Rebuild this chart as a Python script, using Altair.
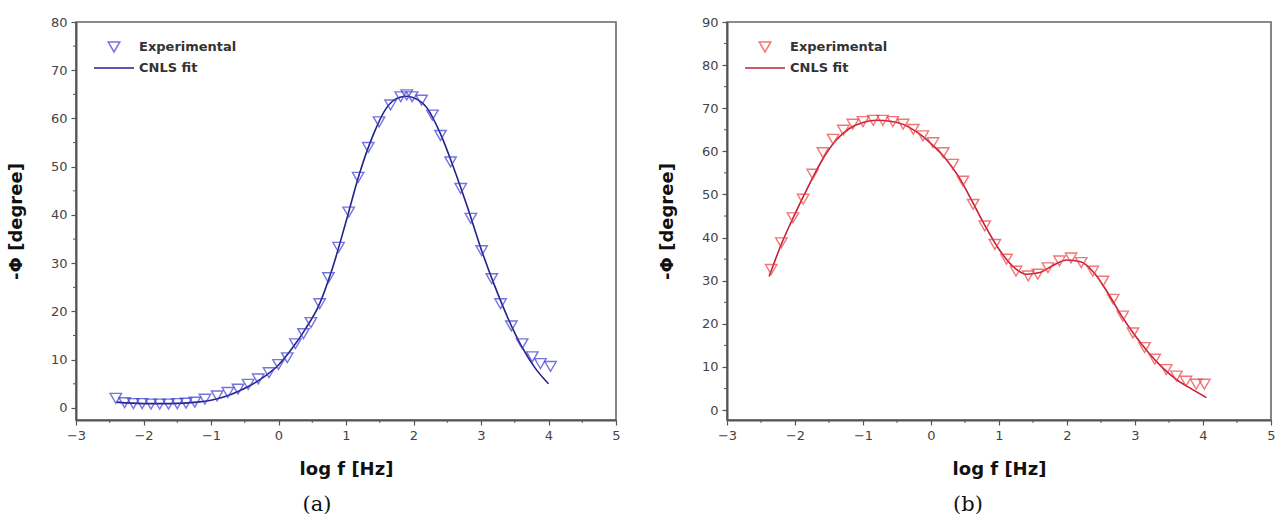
import altair as alt
import pandas as pd

# ---------------- data ----------------
x_ticks = [-3, -2, -1, 0, 1, 2, 3, 4, 5]
x_minor = [-2.5, -1.5, -0.5, 0.5, 1.5, 2.5, 3.5, 4.5]

a_y_ticks = [0, 10, 20, 30, 40, 50, 60, 70, 80]
a_y_minor = [5, 15, 25, 35, 45, 55, 65, 75]
b_y_ticks = [0, 10, 20, 30, 40, 50, 60, 70, 80, 90]
b_y_minor = [5, 15, 25, 35, 45, 55, 65, 75, 85]

a_exp_x = [-2.41, -2.28, -2.15, -2.02, -1.89, -1.76, -1.63, -1.50, -1.37, -1.24,
           -1.09, -0.91, -0.75, -0.60, -0.45, -0.30, -0.14, 0.00, 0.13, 0.25,
           0.37, 0.48, 0.61, 0.74, 0.89, 1.04, 1.18, 1.33, 1.49, 1.66,
           1.81, 1.90, 1.98, 2.12, 2.28, 2.40, 2.55, 2.70, 2.85, 3.01,
           3.16, 3.29, 3.45, 3.61, 3.76, 3.88, 4.03]
a_exp_y = [2.0, 1.1, 0.9, 0.9, 0.8, 0.8, 0.8, 0.9, 1.0, 1.2,
           1.8, 2.5, 3.2, 3.9, 4.9, 6.0, 7.3, 9.0, 10.4, 13.3,
           15.4, 17.7, 21.6, 27.0, 33.3, 40.6, 47.8, 54.0, 59.3, 62.8,
           64.5, 64.9, 64.5, 63.8, 60.7, 56.5, 51.0, 45.5, 39.3, 32.6,
           26.8, 21.6, 17.0, 13.3, 10.6, 9.2, 8.6]
a_fit_x = [-2.4, -2.0, -1.6, -1.2, -1.0, -0.8, -0.6, -0.4, -0.2, 0.0,
           0.2, 0.4, 0.6, 0.8, 1.0, 1.2, 1.4, 1.6, 1.8, 1.9,
           2.0, 2.2, 2.4, 2.6, 2.8, 3.0, 3.2, 3.4, 3.6, 3.8, 4.0]
a_fit_y = [1.2, 0.9, 0.9, 1.2, 1.6, 2.3, 3.4, 4.8, 6.6, 8.9,
           12.3, 16.4, 21.3, 29.0, 38.6, 48.6, 56.5, 62.2, 64.4, 64.6,
           64.3, 62.2, 56.8, 49.6, 41.6, 33.0, 25.4, 18.6, 12.8, 8.3, 5.0]

b_exp_x = [-2.35, -2.20, -2.03, -1.88, -1.74, -1.59, -1.44, -1.29, -1.15, -1.00,
           -0.85, -0.71, -0.56, -0.41, -0.26, -0.12, 0.03, 0.18, 0.32, 0.47,
           0.62, 0.79, 0.94, 1.11, 1.25, 1.43, 1.57, 1.72, 1.89, 2.06,
           2.21, 2.38, 2.53, 2.68, 2.82, 2.97, 3.14, 3.29, 3.46, 3.61,
           3.75, 3.90, 4.02]
b_exp_y = [32.6, 38.8, 44.6, 48.9, 54.7, 59.7, 62.8, 64.9, 66.3, 66.9,
           67.2, 67.2, 66.9, 66.3, 65.1, 63.6, 62.0, 59.7, 57.0, 53.1,
           47.7, 42.7, 38.4, 35.0, 32.2, 31.1, 31.5, 33.0, 34.6, 35.3,
           34.2, 32.2, 29.9, 25.7, 21.8, 17.9, 14.5, 11.8, 9.4, 7.9,
           6.7, 6.0, 6.0]
b_fit_x = [-2.38, -2.2, -2.0, -1.8, -1.6, -1.4, -1.2, -1.0, -0.8, -0.6,
           -0.4, -0.2, 0.0, 0.2, 0.4, 0.6, 0.8, 1.0, 1.2, 1.4,
           1.6, 1.8, 2.0, 2.2, 2.4, 2.6, 2.8, 3.0, 3.2, 3.4,
           3.6, 3.8, 4.05]
b_fit_y = [31.0, 38.5, 45.5, 52.0, 58.0, 62.5, 65.3, 66.7, 67.2, 67.0,
           66.2, 64.4, 61.8, 58.6, 54.3, 48.6, 42.6, 37.3, 33.4, 31.5,
           31.9, 33.6, 34.8, 34.4, 31.8, 27.2, 21.9, 17.3, 13.3, 9.9,
           7.2, 5.2, 2.9]

legend_labels = ["Experimental", "CNLS fit"]

FONT = "DejaVu Sans"
AXIS_COL = "#555555"
H = 398


def panel(exp_x, exp_y, fit_x, fit_y, ymin, ymax, yticks, yminor,
          pt_color, ln_color, width, label, label_dx):
    exp_df = pd.DataFrame({"x": exp_x, "y": exp_y})
    fit_df = pd.DataFrame({"x": fit_x, "y": fit_y})
    xs = alt.Scale(domain=[-3, 5], nice=False, zero=False)
    ys = alt.Scale(domain=[ymin, ymax], nice=False, zero=False)

    xaxis = alt.Axis(values=x_ticks, format="d", title="log f [Hz]", grid=False,
                     tickSize=5, tickColor=AXIS_COL, tickWidth=1.2,
                     domainColor=AXIS_COL, domainWidth=2,
                     labelFont=FONT, labelFontSize=13, labelColor="#444444",
                     labelPadding=4, labelFlush=False,
                     titleFont=FONT, titleFontSize=18, titleFontWeight="bold",
                     titleColor="#111111", titlePadding=18)
    yaxis = alt.Axis(values=yticks, format="d", title="-Φ [degree]", grid=False,
                     tickSize=5, tickColor=AXIS_COL, tickWidth=1.2,
                     domainColor=AXIS_COL, domainWidth=2,
                     labelFont=FONT, labelFontSize=13, labelColor="#444444",
                     labelPadding=4, labelFlush=False,
                     titleFont=FONT, titleFontSize=18, titleFontWeight="bold",
                     titleColor="#111111", titlePadding=25)

    line = alt.Chart(fit_df).mark_line(
        interpolate="monotone", color=ln_color, strokeWidth=1.6
    ).encode(
        x=alt.X("x:Q", scale=xs, axis=xaxis),
        y=alt.Y("y:Q", scale=ys, axis=yaxis),
    )
    pts = alt.Chart(exp_df).mark_point(
        shape="triangle-down", filled=False, size=130, strokeWidth=1.4,
        color=pt_color
    ).encode(
        x=alt.X("x:Q", scale=xs),
        y=alt.Y("y:Q", scale=ys),
    )

    xminor = alt.Chart(pd.DataFrame({"v": x_minor})).mark_rule(
        color=AXIS_COL, strokeWidth=1
    ).encode(x=alt.X("v:Q", scale=xs), y=alt.value(H), y2=alt.value(H + 3))
    yminor_ch = alt.Chart(pd.DataFrame({"v": yminor})).mark_rule(
        color=AXIS_COL, strokeWidth=1
    ).encode(y=alt.Y("v:Q", scale=ys), x=alt.value(0), x2=alt.value(-3))

    leg_pt = alt.Chart(pd.DataFrame({"t": [legend_labels[0]]})).mark_point(
        shape="triangle-down", filled=False, size=130, strokeWidth=1.6,
        color=pt_color
    ).encode(x=alt.value(38), y=alt.value(25))
    leg_ln = alt.Chart(pd.DataFrame({"t": [legend_labels[1]]})).mark_rule(
        color=ln_color, strokeWidth=1.6
    ).encode(x=alt.value(18), x2=alt.value(58), y=alt.value(46))
    leg_t1 = alt.Chart(pd.DataFrame({"t": [legend_labels[0]]})).mark_text(
        align="left", baseline="middle", font=FONT, fontSize=13,
        fontWeight="bold", color="#333333"
    ).encode(x=alt.value(63), y=alt.value(25), text="t:N")
    leg_t2 = alt.Chart(pd.DataFrame({"t": [legend_labels[1]]})).mark_text(
        align="left", baseline="middle", font=FONT, fontSize=13,
        fontWeight="bold", color="#333333"
    ).encode(x=alt.value(63), y=alt.value(46), text="t:N")

    return alt.layer(
        line, pts, xminor, yminor_ch, leg_pt, leg_ln, leg_t1, leg_t2
    ).properties(
        width=width, height=H,
        title=alt.TitleParams(
            text=label, orient="bottom", anchor="middle",
            font="DejaVu Serif", fontSize=21, fontWeight="normal",
            color="#111111", offset=16, dx=label_dx
        ),
    )


pa = panel(a_exp_x, a_exp_y, a_fit_x, a_fit_y, -2.5, 80, a_y_ticks, a_y_minor,
           "#3b3bd0", "#22228a", 540, "(a)", -29)
pb = panel(b_exp_x, b_exp_y, b_fit_x, b_fit_y, -2.3, 90, b_y_ticks, b_y_minor,
           "#f03c3c", "#c0203a", 544, "(b)", -31)

chart = alt.hconcat(pa, pb, spacing=36).properties(
    padding={"left": 6, "top": 15, "right": 0, "bottom": 0},
    background="white",
).configure_view(
    stroke="#666666", strokeWidth=1.6
)

chart.save("out.html", embed_options={"renderer": "svg", "actions": False})
